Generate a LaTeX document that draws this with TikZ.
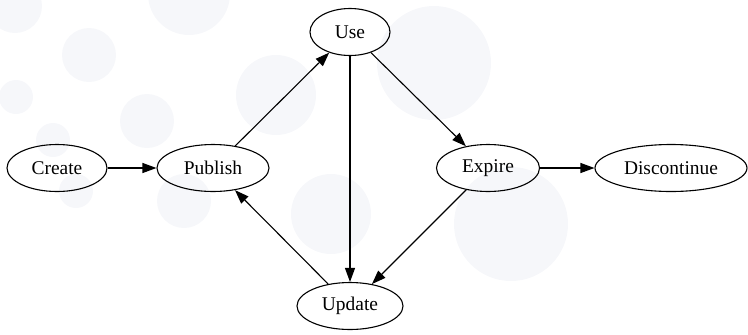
\documentclass[tikz,border=0pt]{standalone}
\usepackage{fontspec}
\setmainfont{Liberation Serif}
\usetikzlibrary{shapes.geometric,arrows.meta}
\definecolor{dotgrey}{RGB}{246,247,250}
\tikzset{
    state/.style={ellipse, draw, line width=1.1bp, inner sep=0pt, minimum height=47bp,
        font=\fontsize{19.5}{22}\selectfont},
    flow/.style={line width=1.1bp, -{Triangle[length=14bp,width=10bp]}},
    bgdot/.style={fill=dotgrey}
}

\begin{document}
\begin{tikzpicture}[x=1bp, y=-1bp]
    \useasboundingbox (0,0) rectangle (748,334);
% Background dots
    \fill[bgdot] (15,6) circle (27);
    \fill[bgdot] (189,-6) circle (41);
    \fill[bgdot] (89,55) circle (27);
    \fill[bgdot] (16,97) circle (17);
    \fill[bgdot] (147,121) circle (27);
    \fill[bgdot] (53,140) circle (17);
    \fill[bgdot] (276,95) circle (40);
    \fill[bgdot] (76,191) circle (17);
    \fill[bgdot] (184,201) circle (27);
    \fill[bgdot] (331,214) circle (40);
    \fill[bgdot] (434,63) circle (57);
    \fill[bgdot] (511,224) circle (57);
% States
    \node[state, minimum width=100bp] (create) at (57,168) {Create};
    \node[state, minimum width=112bp] (publish) at (213,168) {Publish};
    \node[state, minimum width=80bp] (use) at (350,32) {Use};
    \node[state, minimum width=103bp] (expire) at (488,168) {Expire};
    \node[state, minimum width=152bp] (discontinue) at (671,168) {Discontinue};
    \node[state, minimum width=106bp] (update) at (350,306) {Update};
% Transitions
    \draw[flow] (create) -- (publish);
    \draw[flow] (publish) -- (use);
    \draw[flow] (use) -- (expire);
    \draw[flow] (use) -- (update);
    \draw[flow] (expire) -- (discontinue);
    \draw[flow] (expire) -- (update);
    \draw[flow] (update) -- (publish);
\end{tikzpicture}
\end{document}
